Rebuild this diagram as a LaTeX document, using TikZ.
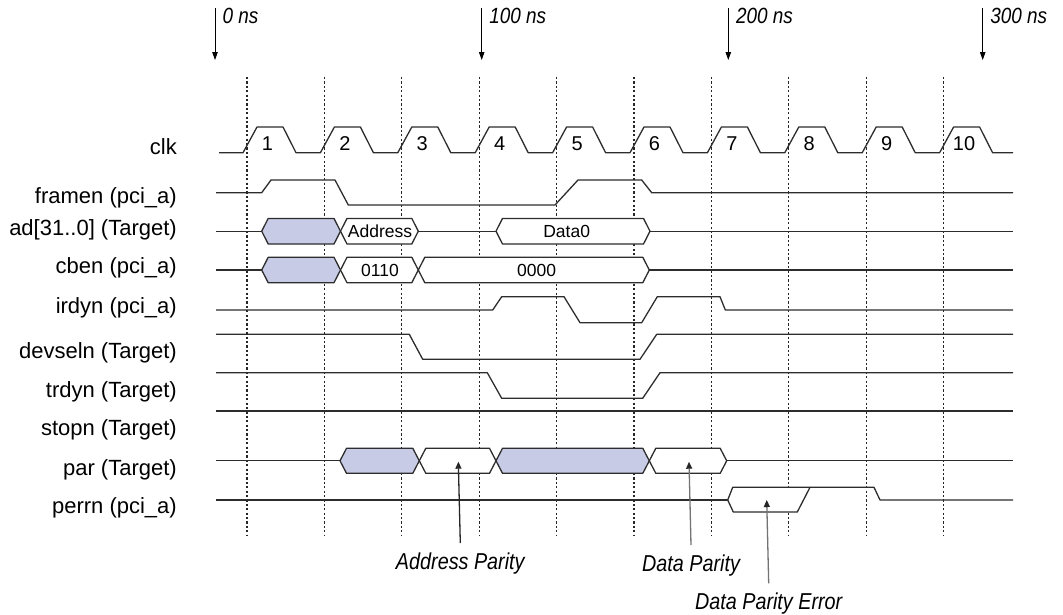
\documentclass[tikz,border=0pt]{standalone}
\usepackage{fontspec}
\setmainfont{Liberation Sans}
\newfontfamily\narrowfont[FakeStretch=0.86]{Liberation Sans}
\usepackage{tikz}
\usetikzlibrary{arrows.meta}
\definecolor{busfill}{RGB}{199,203,230}
\definecolor{wavecol}{RGB}{45,45,45}
\definecolor{pointercol}{RGB}{115,115,115}
\newcommand{\hexbus}[5][]{\draw[sig,#1] (#2,#4) -- ({#2+6.5},{#4-#5}) -- ({#3-6.5},{#4-#5}) -- (#3,#4) -- ({#3-6.5},{#4+#5}) -- ({#2+6.5},{#4+#5}) -- cycle;}

\begin{document}
\begin{tikzpicture}[x=1pt,y=-1pt]
\useasboundingbox (0,0) rectangle (1063,614);
\pgfmathsetmacro{\tStep}{77.4}
\pgfmathsetmacro{\xStart}{216}
\pgfmathsetmacro{\xEnd}{1013}

\tikzstyle{sig}=[line width=1.3pt,draw=wavecol,line join=round]
\tikzstyle{tickline}=[line width=1.1pt,draw=black!85,dash pattern=on 2.2pt off 2.2pt]
\tikzstyle{timearrow}=[line width=0.9pt,-{Triangle[length=8pt,width=5.5pt]}]
\tikzstyle{pointer}=[line width=1.3pt,draw=pointercol,-{Triangle[length=7pt,width=6pt,color=black!85]}]
\tikzstyle{sigtext}=[anchor=east,inner sep=0pt,font=\fontsize{22}{26}\selectfont]
\tikzstyle{bustext}=[inner sep=0pt,font=\fontsize{17.5}{20}\selectfont]
\tikzstyle{numtext}=[inner sep=0pt,font=\fontsize{20}{24}\selectfont]
\tikzstyle{nstext}=[anchor=base west,inner sep=0pt,font=\narrowfont\itshape\fontsize{22}{26}\selectfont]
\tikzstyle{notetext}=[anchor=north,inner xsep=0pt,inner ysep=10pt,xshift=2pt,font=\narrowfont\itshape\fontsize{23}{27}\selectfont]

\foreach \i in {0,...,9}
  \draw[tickline] ({247+\tStep*\i},77) -- ({247+\tStep*\i},535);

\foreach \xx/\txt [count=\k] in {215/0 ns,481.7/100 ns,728.3/200 ns,982.7/300 ns} {
  \draw[timearrow] (\xx,8) -- (\xx,60);
  \node[nstext] (ns\k) at (\xx+7.5,23.3) {\txt};
}

\foreach \nm/\yy/\txt in {clk/146.7/clk, fram/198.3/framen (pci\_a), ad/230/ad[31..0] (Target), cben/268.3/cben (pci\_a), irdy/308.3/irdyn (pci\_a), devsel/353.3/devseln (Target), trdy/391.7/trdyn (Target), stop/430/stopn (Target), par/470/par (Target), perr/508.3/perrn (pci\_a)}
  \node[sigtext] (lab-\nm) at (177,\yy) {\txt};

\draw[sig] (219,152.7) \foreach \i in {0,...,9} { -- ({243+\tStep*\i},152.7) -- ({257+\tStep*\i},127) -- ({283+\tStep*\i},127) -- ({296+\tStep*\i},152.7) } -- (\xEnd,152.7);
\foreach \i in {1,...,10}
  \node[numtext] (cyc\i) at ({267.5+\tStep*(\i-1)},143.3) {\i};

\draw[sig] (\xStart,192.7) -- (261.7,192.7) -- (271,180) -- (335,180) -- (348.3,205) -- (555,205) -- (578,180) -- (641.7,180) -- (651.7,192.7) -- (\xEnd,192.7);

\draw[sig] (\xStart,231.2) -- (261.7,231.2);
\hexbus[fill=busfill]{261.7}{340.5}{231.2}{12.8}
\hexbus[fill=white]{340.5}{418.3}{231.2}{12.8}
\draw[sig] (418.3,231.2) -- (496,231.2);
\hexbus[fill=white]{496}{650}{231.2}{12.8}
\draw[sig] (650,231.2) -- (\xEnd,231.2);
\node[bustext] (addr) at (380,231.2) {Address};
\node[bustext] (data0) at (566.7,231.2) {Data0};

\draw[sig] (\xStart,270) -- (261.7,270);
\hexbus[fill=busfill]{261.7}{340.5}{270}{12.7}
\hexbus[fill=white]{340.5}{418.3}{270}{12.7}
\hexbus[fill=white]{418.3}{649.3}{270}{12.7}
\draw[sig] (649.3,270) -- (\xEnd,270);
\node[bustext] (cmd) at (380,270) {0110};
\node[bustext] (bytes) at (536.7,270) {0000};

\draw[sig] (\xStart,310) -- (492.7,310) -- (501.7,296.7) -- (564,296.7) -- (580,322.7) -- (641.7,322.7) -- (657.3,296.7) -- (720,296.7) -- (725.3,310) -- (\xEnd,310);

\draw[sig] (\xStart,334.3) -- (409.3,334.3) -- (422.7,359.3) -- (640,359.3) -- (656.7,334.3) -- (\xEnd,334.3);

\draw[sig] (\xStart,372.7) -- (487.3,372.7) -- (501.7,398.3) -- (642.7,398.3) -- (660,372.7) -- (\xEnd,372.7);

\draw[sig] (\xStart,411) -- (\xEnd,411);

\draw[sig] (\xStart,460.8) -- (340,460.8);
\hexbus[fill=busfill]{340}{419.3}{460.8}{12.5}
\hexbus[fill=white]{419.3}{496}{460.8}{12.5}
\hexbus[fill=busfill]{496}{649.3}{460.8}{12.5}
\hexbus[fill=white]{649.3}{726.7}{460.8}{12.5}
\draw[sig] (726.7,460.8) -- (\xEnd,460.8);

\draw[sig] (\xStart,500) -- (727.7,500);
\draw[sig,fill=white] (727.7,500) -- (732.7,487.3) -- (810,487.3) -- (797.3,512) -- (733.3,512) -- cycle;
\draw[sig] (810,487.3) -- (874,487.3) -- (880,500) -- (\xEnd,500);

\coordinate (apTip) at (458.3,461.7);
\coordinate (dpTip) at (689,461.7);
\coordinate (dpeTip) at (766.7,500);
\node[notetext] (apNote) at (458.3,543) {Address Parity};
\node[notetext] (dpNote) at (689,545) {Data Parity};
\node[notetext,inner ysep=9pt] (dpeNote) at (766.7,583.3) {Data Parity Error};
\draw[pointer,draw=black!85] (apNote.north) -- (apTip);
\draw[pointer] (dpNote.north) -- (dpTip);
\draw[pointer] (dpeNote.north) -- (dpeTip);
\end{tikzpicture}
\end{document}
